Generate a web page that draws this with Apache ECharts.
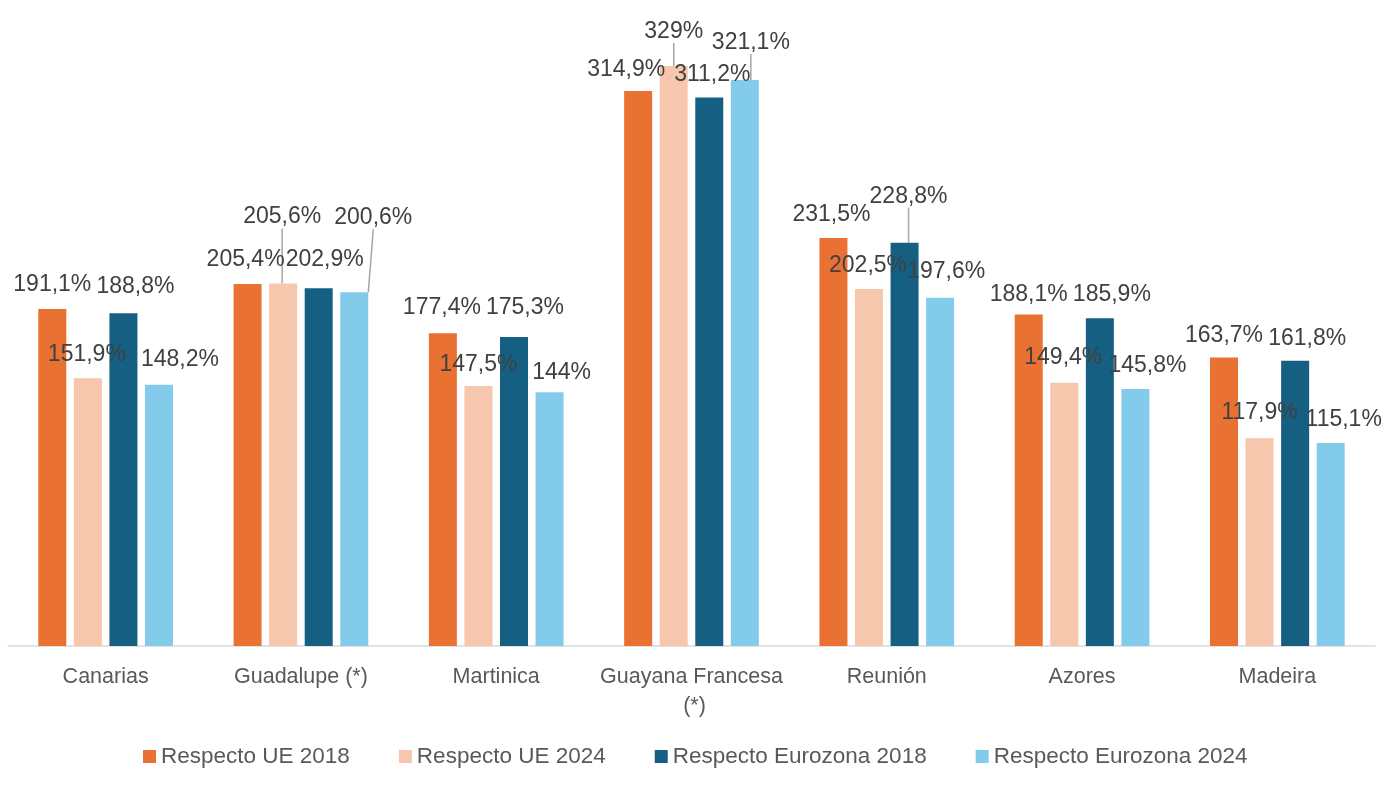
<!DOCTYPE html>
<html>
<head>
<meta charset="utf-8">
<title>Regiones ultraperiféricas</title>
<script src="https://cdn.jsdelivr.net/npm/echarts@6/dist/echarts.min.js"></script>
<style>
  html, body { margin: 0; padding: 0; background: #fff; }
  #main { width: 1384px; height: 787px; }
</style>
</head>
<body>
<div id="main"></div>
<script>
  // datos
  const regiones = ['Canarias', 'Guadalupe (*)', 'Martinica', 'Guayana Francesa (*)', 'Reunión', 'Azores', 'Madeira']
  const seriesNames = ['Respecto UE 2018', 'Respecto UE 2024', 'Respecto Eurozona 2018', 'Respecto Eurozona 2024']
  const ue2018 = [191.1, 205.4, 177.4, 314.9, 231.5, 188.1, 163.7]
  const ue2024 = [151.9, 205.6, 147.5, 329, 202.5, 149.4, 117.9]
  const eurozona2018 = [188.8, 202.9, 175.3, 311.2, 228.8, 185.9, 161.8]
  const eurozona2024 = [148.2, 200.6, 144, 321.1, 197.6, 145.8, 115.1]

  const colores = ['#E97132', '#F6C6AD', '#156082', '#83CBEB']

  // desplazamiento de etiquetas (como en Excel), por serie y region
  const labelShift = [
    [[0, -1], [-2, -1], [-1, -2], [-12, 2], [-2, 0], [0, 4], [0, 2]],
    [[-1, 0], [-1, -43], [0, 2], [0, -11], [-1, 0], [-1, -1], [0, -2]],
    [[12, -3], [6, -5], [11, -6], [3, 1], [4, -23], [12, 0], [12, 1]],
    [[21, -2], [19, -51], [12, 4], [6, -14], [6, -3], [12, 0], [13, 0]]
  ]
  // etiquetas con linea guia
  const withLine = [[], [1, 3], [4], [1, 3]]

  const valores = [ue2018, ue2024, eurozona2018, eurozona2024]

  const myChart = echarts.init(document.getElementById('main'))

  const series = valores.map(function (vals, s) {
    return {
      name: seriesNames[s],
      type: 'bar',
      barWidth: 28,
      barGap: '27%',
      itemStyle: { color: colores[s] },
      label: {
        show: true,
        position: 'top',
        distance: 6,
        padding: [0, 0, 6, 0],
        color: '#404040',
        fontSize: 23,
        fontFamily: 'Liberation Sans',
        formatter: function (p) {
          return String(p.value).replace('.', ',') + '%'
        }
      },
      labelLayout: function (p) {
        const d = labelShift[s][p.dataIndex]
        return { dx: d[0], dy: d[1] }
      },
      labelLine: {
        show: false,
        length2: 0,
        lineStyle: { color: '#A6A6A6', width: 1.5 }
      },
      data: vals.map(function (v, i) {
        return {
          value: v,
          labelLine: { show: withLine[s].indexOf(i) >= 0 }
        }
      })
    }
  })

  const option = {
    backgroundColor: '#ffffff',
    animation: false,
    grid: { left: 8, right: 9, top: 29, bottom: 141 },
    legend: {
      data: seriesNames,
      left: 138,
      top: 740,
      itemWidth: 13,
      itemHeight: 13,
      itemGap: 49,
      icon: 'rect',
      textStyle: { color: '#595959', fontSize: 22.5, fontFamily: 'Liberation Sans' }
    },
    xAxis: {
      type: 'category',
      data: regiones,
      axisTick: { show: false },
      axisLine: { lineStyle: { color: '#D9D9D9', width: 1.5 } },
      axisLabel: {
        color: '#595959',
        fontSize: 21.5,
        fontFamily: 'Liberation Sans',
        margin: 17,
        lineHeight: 29,
        width: 185,
        overflow: 'break',
        interval: 0
      }
    },
    yAxis: {
      type: 'value',
      min: 0,
      max: 350,
      show: false,
      splitLine: { show: false }
    },
    series: series
  }

  myChart.setOption(option, true)
</script>
</body>
</html>
